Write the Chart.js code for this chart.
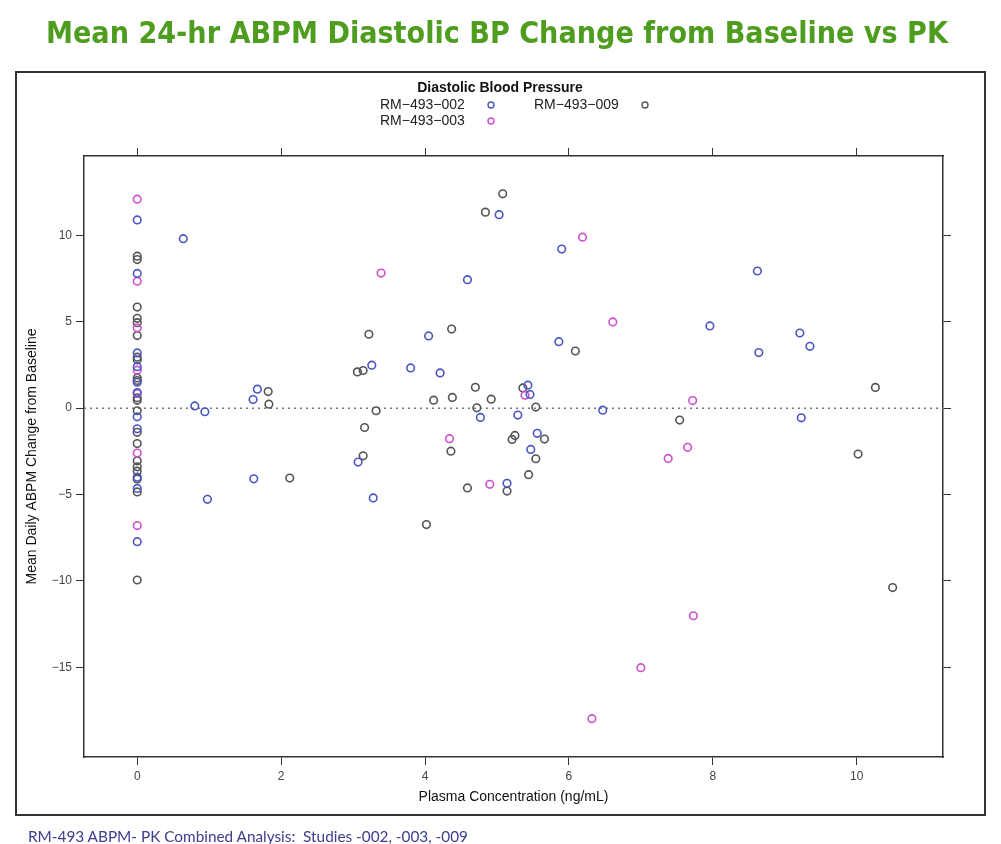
<!DOCTYPE html>
<html><head><meta charset="utf-8">
<script src="https://cdn.jsdelivr.net/npm/chart.js@4"></script>
<style>
html,body{margin:0;padding:0;background:#fff;width:1001px;height:844px;overflow:hidden;}
#wrap{position:relative;width:1001px;height:844px;}
#chart{position:absolute;left:0;top:0;}
#title{position:absolute;left:-4px;top:14px;width:1001px;text-align:center;font-family:"DejaVu Sans Condensed","DejaVu Sans",sans-serif;font-stretch:condensed;font-weight:bold;font-size:31px;line-height:36px;color:#4f9d1f;white-space:nowrap;}
#title span{display:inline-block;transform-origin:center;}
#footer{position:absolute;left:28px;top:828px;font-family:Lato,"Open Sans",sans-serif;font-size:15px;line-height:16px;color:#3d3d8f;white-space:nowrap;transform-origin:left center;}
</style></head><body>
<div id="wrap">
<canvas id="chart" width="1001" height="844"></canvas>
<div id="title"><span id="titleText">Mean 24-hr ABPM Diastolic BP Change from Baseline vs PK</span></div>
<div id="footer"><span id="footText">RM-493 ABPM- PK Combined Analysis:&nbsp; Studies -002, -003, -009</span></div>
</div>
<script>
// ---- data ----
const xTicks = [0, 2, 4, 6, 8, 10];
const xTickLabels = ['0', '2', '4', '6', '8', '10'];
const yTicks = [-15, -10, -5, 0, 5, 10];
const yTickLabels = ['\u221215', '\u221210', '\u22125', '0', '5', '10'];
const xRange = [-0.74, 11.2];
const yRange = [-20.2, 14.6];
const refY = 0;

const seriesNames = ['RM\u2212493\u2212002', 'RM\u2212493\u2212003', 'RM\u2212493\u2212009'];

const conc002 = [0,0,0,0,0,0,0,0,0,0,0,
  0.64,0.80,0.94,1.67,1.61,1.62,0.975,5.03,5.90,4.59,
  4.05,5.86,3.26,3.80,4.21,5.43,5.46,4.77,5.29,6.47,
  5.56,3.07,5.47,5.14,3.28,8.62,7.96,9.21,9.35,8.64,
  9.23];
const chg002 = [10.9,7.8,3.2,2.4,1.5,0.9,-0.5,-1.2,-4.0,-4.65,-7.73,
  9.81,0.13,-0.21,1.10,0.50,-4.09,-5.28,11.20,9.21,7.44,
  4.18,3.85,2.49,2.33,2.04,1.33,0.79,-0.54,-0.40,-0.12,
  -1.46,-3.12,-2.39,-4.35,-5.20,7.94,4.76,4.35,3.58,3.22,
  -0.56];

const conc003 = [0,0,0,0,0,0,0,
  3.39,6.19,6.61,5.39,4.34,4.90,7.72,7.65,7.38,7.73,7.00,6.32];
const chg003 = [12.1,7.35,4.65,2.2,0.85,-2.6,-6.8,
  7.82,9.90,4.99,0.75,-1.77,-4.41,0.44,-2.27,-2.91,-12.02,-15.03,-17.98];

const conc009 = [0,0,0,0,0,0,0,0,0,0,0,0,0,0,0,0,0,0,0,0,0,
  5.08,4.84,3.22,4.37,6.09,3.06,3.14,4.70,5.36,4.12,
  4.38,4.92,3.32,4.72,5.54,3.16,5.25,5.21,5.66,3.14,
  4.36,5.54,5.44,4.59,5.14,4.02,1.82,1.83,2.12,10.26,
  7.54,10.02,10.50];
const chg009 = [8.8,8.6,5.85,5.2,4.95,4.2,2.95,2.8,1.75,1.6,0.6,0.45,-0.15,-1.4,-2.05,-3.05,-3.4,-3.65,-4.1,-4.85,-9.95,
  12.41,11.35,4.28,4.58,3.31,2.10,2.18,1.21,1.17,0.46,
  0.62,0.52,-0.15,0.02,0.06,-1.12,-1.58,-1.81,-1.79,-2.76,
  -2.49,-2.93,-3.85,-4.62,-4.80,-6.74,0.96,0.23,-4.05,1.20,
  -0.69,-2.66,-10.39];

// ---- styles ----
const colors = ['#4b55c4', '#cf4fcf', '#555555'];
const FONT = '"Liberation Sans", Arial, sans-serif';
const INK = '#333333';

function pts(xs, ys) { return xs.map((x, i) => ({x: x, y: ys[i]})); }

const datasets = [
  {label: seriesNames[0], data: pts(conc002, chg002), borderColor: colors[0]},
  {label: seriesNames[1], data: pts(conc003, chg003), borderColor: colors[1]},
  {label: seriesNames[2], data: pts(conc009, chg009), borderColor: colors[2]}
].map(d => Object.assign(d, {
  backgroundColor: 'rgba(0,0,0,0)', pointRadius: 3.8, pointHoverRadius: 3.8,
  pointBorderWidth: 1.6, pointStyle: 'circle', showLine: false
}));

const framePlugin = {
  id: 'frame',
  beforeDraw(chart) {
    const ctx = chart.ctx;
    ctx.save();
    ctx.fillStyle = '#fff';
    ctx.fillRect(0, 0, chart.width, chart.height);
    ctx.strokeStyle = '#333';
    ctx.lineWidth = 2;
    ctx.strokeRect(16, 72, 969, 743);
    ctx.restore();
  },
  beforeDatasetsDraw(chart) {
    const {ctx, chartArea, scales} = chart;
    const py = scales.y.getPixelForValue(refY);
    ctx.save();
    ctx.strokeStyle = '#777';
    ctx.lineWidth = 1.5;
    ctx.setLineDash([2, 4]);
    ctx.beginPath();
    ctx.moveTo(chartArea.left, py);
    ctx.lineTo(chartArea.right, py);
    ctx.stroke();
    ctx.restore();
  },
  afterDraw(chart) {
    const ctx = chart.ctx;
    ctx.save();
    ctx.fillStyle = '#111';
    ctx.font = 'bold 14px ' + FONT;
    ctx.textAlign = 'center';
    ctx.textBaseline = 'middle';
    ctx.fillText('Diastolic Blood Pressure', 500, 88);
    const pos = [[380, 105], [380, 121], [534, 105]];
    ctx.font = '14px ' + FONT;
    ctx.textAlign = 'left';
    ctx.fillStyle = '#222';
    for (let i = 0; i < 3; i++) {
      const [tx, ty] = pos[i];
      ctx.fillText(seriesNames[i], tx, ty);
      ctx.beginPath();
      ctx.arc(tx + 111, ty, 3, 0, Math.PI * 2);
      ctx.strokeStyle = colors[i];
      ctx.lineWidth = 1.4;
      ctx.stroke();
    }
    ctx.restore();
  }
};

function axisCommon(ticksArr, labels, showLabels) {
  return {
    type: 'linear',
    afterBuildTicks: s => { s.ticks = ticksArr.map(v => ({value: v})); },
    ticks: {
      display: showLabels, autoSkip: false, maxRotation: 0, padding: 4,
      color: '#444', font: {family: FONT, size: 12},
      callback: (v, i) => labels[i]
    },
    grid: {drawOnChartArea: false, drawTicks: true, tickLength: 8, color: INK, tickWidth: 1},
    border: {display: true, color: INK, width: 1.5}
  };
}

const sx = Object.assign(axisCommon(xTicks, xTickLabels, true), {
  position: 'bottom', min: xRange[0], max: xRange[1],
  afterFit: s => { s.height = 58; },
  title: {display: true, text: 'Plasma Concentration (ng/mL)', color: '#111',
    font: {family: FONT, size: 14}, padding: {top: 0, bottom: 9}}
});
const sx2 = Object.assign(axisCommon(xTicks, xTickLabels, false), {
  position: 'top', min: xRange[0], max: xRange[1],
  afterFit: s => { s.height = 156; }
});
const sy = Object.assign(axisCommon(yTicks, yTickLabels, true), {
  position: 'left', min: yRange[0], max: yRange[1],
  afterFit: s => { s.width = 68; },
  title: {display: true, text: 'Mean Daily ABPM Change from Baseline', color: '#111',
    font: {family: FONT, size: 14}, padding: {top: 8, bottom: 0}}
});
const sy2 = Object.assign(axisCommon(yTicks, yTickLabels, false), {
  position: 'right', min: yRange[0], max: yRange[1],
  afterFit: s => { s.width = 42; }
});

new Chart(document.getElementById('chart'), {
  type: 'scatter',
  data: {datasets: datasets},
  options: {
    responsive: false, animation: false, devicePixelRatio: 1,
    layout: {padding: {left: 16, right: 16, top: 0, bottom: 29}},
    plugins: {legend: {display: false}, title: {display: false}, tooltip: {enabled: false}},
    scales: {x: sx, x2: sx2, y: sy, y2: sy2}
  },
  plugins: [framePlugin]
});

// fit title and footer widths to reference spans
const tt = document.getElementById('titleText');
tt.style.transform = 'scaleX(' + (902 / tt.getBoundingClientRect().width).toFixed(4) + ')';
const ft = document.getElementById('footer');
ft.style.transform = 'scaleX(' + (440 / document.getElementById('footText').getBoundingClientRect().width).toFixed(4) + ')';
</script>
</body></html>
